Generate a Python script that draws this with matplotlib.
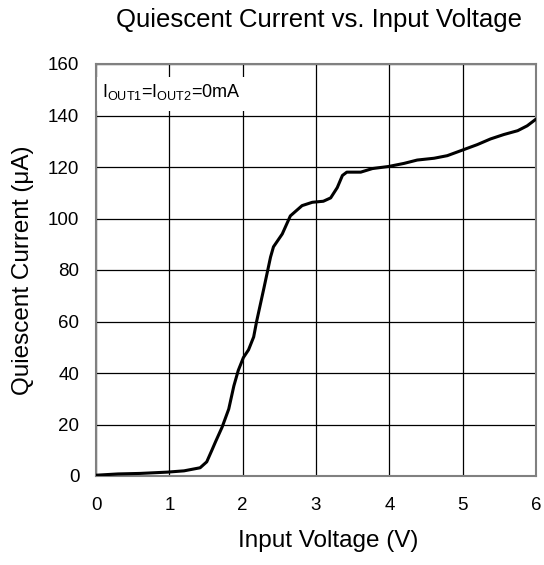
import numpy as np
import matplotlib
matplotlib.use('Agg')
import matplotlib.pyplot as plt

plt.rcParams['font.family'] = ['Liberation Sans', 'DejaVu Sans']

# tensao de entrada (V) e corrente quiescente (uA)
vin = [0.0, 0.3, 0.6, 0.97, 1.2, 1.42, 1.51, 1.58, 1.63, 1.72, 1.81, 1.88, 1.94,
       2.01, 2.08, 2.15, 2.19, 2.29, 2.38, 2.42, 2.54, 2.65, 2.81, 2.95, 3.1,
       3.2, 3.29, 3.36, 3.42, 3.61, 3.77, 3.99, 4.2, 4.38, 4.61, 4.79, 5.0,
       5.2, 5.38, 5.56, 5.75, 5.88, 6.0]
iq = [0.3, 0.8, 1.0, 1.5, 2.0, 3.2, 5.5, 10.0, 13.3, 19.0, 26.0, 35.0, 41.0,
      46.0, 49.0, 54.0, 60.0, 73.0, 85.0, 89.0, 94.0, 101.0, 105.0, 106.3, 106.7,
      108.0, 112.0, 116.7, 118.0, 118.0, 119.4, 120.2, 121.4, 122.7, 123.4, 124.4, 126.6,
      128.7, 130.9, 132.6, 134.1, 136.0, 138.6]

xticks = [0, 1, 2, 3, 4, 5, 6]
yticks = [0, 20, 40, 60, 80, 100, 120, 140, 160]

W, H = 544, 565
fig = plt.figure(figsize=(5.44, 5.65), dpi=100)
ax = fig.add_axes([96 / W, 1 - 476 / H, 440 / W, 412 / H])

ax.plot(vin, iq, color='black', linewidth=2.2, solid_capstyle='round', zorder=3)

ax.set_xlim(0, 6)
ax.set_ylim(0, 160)
ax.set_xticks(xticks)
ax.set_yticks(yticks)
ax.tick_params(length=0, labelsize=13.5)
ax.tick_params(axis='x', pad=15)
ax.tick_params(axis='y', pad=12)
ax.grid(True, color='black', linewidth=0.9)
ax.set_axisbelow(True)
for s in ax.spines.values():
    s.set_color('#808080')
    s.set_linewidth(1.5)

# caixa branca da legenda
ax.add_patch(plt.Rectangle((0.02, 141.6), 2.1, 13.4, facecolor='white',
                           edgecolor='none', zorder=2.5))
ax.text(0.08, 149, r'I$_{\mathregular{OUT1}}$=I$_{\mathregular{OUT2}}$=0mA', fontsize=13,
        va='center', ha='left', zorder=4)

fig.text(319.5 / W, 1 - 27 / H, 'Quiescent Current vs. Input Voltage', fontsize=18.5,
         ha='center', va='baseline')
fig.text(328 / W, 1 - 547 / H, 'Input Voltage (V)', fontsize=17.5,
         ha='center', va='baseline')
fig.text(12 / W, 0.5 * (1 - 142 / H + 1 - 398 / H), 'Quiescent Current (\u03bcA)',
         fontsize=17.5, ha='left', va='center', rotation=90)

fig.savefig('out.png', dpi=100)
